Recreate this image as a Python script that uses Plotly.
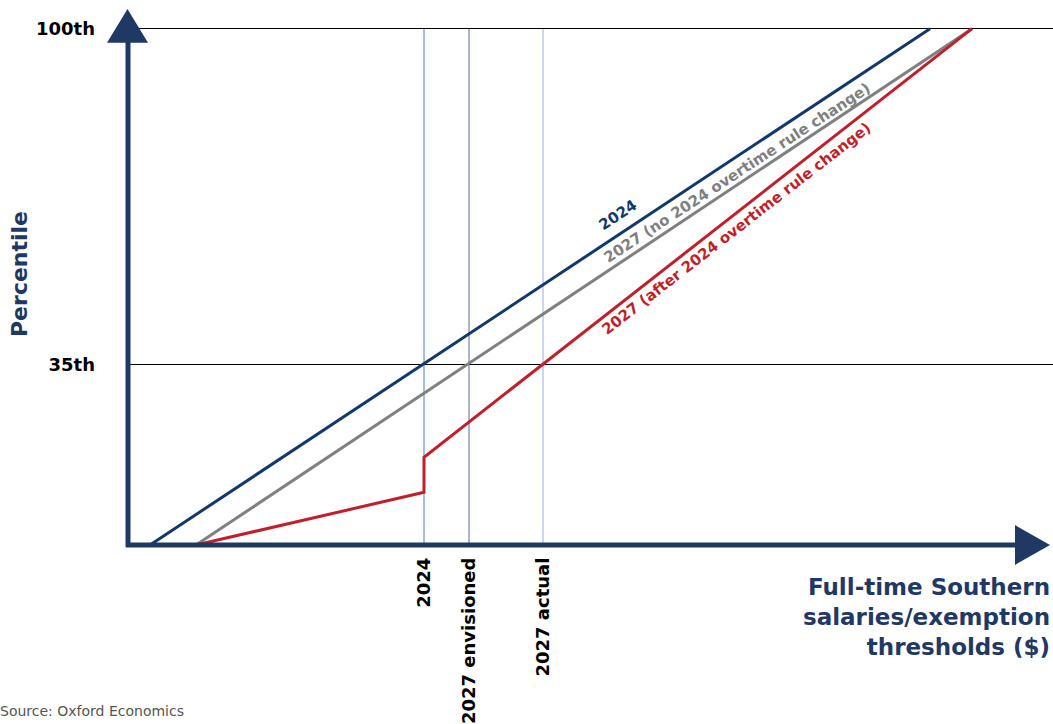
import plotly.graph_objects as go

# ---- data (abstract salary units on x, percentile on y) ----
line2024_x = [22, 802]
line2024_y = [0, 100]
gray2027_x = [68, 844]
gray2027_y = [0, 100]
red2027_x = [68, 296, 296, 844]
red2027_y = [0, 10.2, 17.0, 100]

threshold_x = [296, 341, 415]
threshold_labels = ["2024", "2027 envisioned", "2027 actual"]
threshold_colors = ["#4d7bd0", "#5b6a8f", "#94afe0"]

ytick_vals = [35, 100]
ytick_labels = ["100th" if v == 100 else "35th" for v in ytick_vals]

NAVY = "#1f3864"
FONT = "DejaVu Sans"

W, H = 1053, 724
ML, MR, MT, MB = 128, 0, 8, 177
PW, PH = W - ML - MR, H - MT - MB


def px(xp):
    return (xp - ML) / PW


def py(yp):
    return (H - MB - yp) / PH


fig = go.Figure()

# threshold verticals
for xv, col in zip(threshold_x, threshold_colors):
    fig.add_shape(type="line", xref="x", yref="y", x0=xv, x1=xv, y0=0, y1=100,
                  line=dict(color=col, width=1), layer="below")

fig.add_trace(go.Scatter(x=line2024_x, y=line2024_y, mode="lines",
                         line=dict(color="#14386a", width=3), hoverinfo="skip"))
fig.add_trace(go.Scatter(x=gray2027_x, y=gray2027_y, mode="lines",
                         line=dict(color="#808080", width=3), hoverinfo="skip"))
fig.add_trace(go.Scatter(x=red2027_x, y=red2027_y, mode="lines",
                         line=dict(color="#c01f2b", width=3), hoverinfo="skip"))

# axes with arrows
fig.add_shape(type="line", xref="paper", yref="paper", x0=px(128), x1=px(128),
              y0=py(549), y1=py(40), line=dict(color=NAVY, width=5))
fig.add_shape(type="line", xref="paper", yref="paper", x0=px(126), x1=px(1018),
              y0=py(547), y1=py(547), line=dict(color=NAVY, width=5))
fig.add_shape(type="path", xref="paper", yref="paper",
              path=f"M {px(107)} {py(43)} L {px(148)} {py(43)} L {px(127.5)} {py(9)} Z",
              fillcolor=NAVY, line=dict(width=0))
fig.add_shape(type="path", xref="paper", yref="paper",
              path=f"M {px(1015)} {py(527)} L {px(1015)} {py(567)} L {px(1050)} {py(547)} Z",
              fillcolor=NAVY, line=dict(width=0))

# line labels
fig.add_annotation(x=490, y=63.9, text="<b>2024</b>", showarrow=False, textangle=-33.6,
                   font=dict(family=FONT, size=15, color="#14386a"))
fig.add_annotation(x=609, y=72.0, text="<b>2027 (no 2024 overtime rule change)</b>",
                   showarrow=False, textangle=-33.2,
                   font=dict(family=FONT, size=15, color="#808080"))
fig.add_annotation(x=608, y=61.2, text="<b>2027 (after 2024 overtime rule change)</b>",
                   showarrow=False, textangle=-37.8,
                   font=dict(family=FONT, size=15, color="#c01f2b"))

# axis titles
fig.add_annotation(xref="paper", yref="paper", x=px(19), y=py(275), xanchor="center",
                   yanchor="middle", text="<b>Percentile</b>",
                   showarrow=False, textangle=-90,
                   font=dict(family=FONT, size=22, color=NAVY))
fig.add_annotation(xref="paper", yref="paper", x=px(1052), y=py(574), xanchor="right", yanchor="top",
                   text="<b>Full-time Southern<br>salaries/exemption<br>thresholds ($)</b>",
                   align="right", showarrow=False,
                   font=dict(family=FONT, size=23, color=NAVY))
fig.add_annotation(xref="paper", yref="paper", x=px(-2), y=py(714), xanchor="left",
                   yanchor="middle",
                   text="Source: Oxford Economics", showarrow=False,
                   font=dict(family=FONT, size=14, color="#555555"))

fig.update_layout(
    width=W, height=H,
    margin=dict(l=ML, r=MR, t=MT, b=MB),
    paper_bgcolor="white", plot_bgcolor="white",
    showlegend=False,
    xaxis=dict(range=[0, PW], showgrid=False, zeroline=False, showline=False,
               tickvals=threshold_x, ticktext=[f"<b>{t}</b>" for t in threshold_labels],
               tickangle=-90, ticks="", ticklabelstandoff=8,
               tickfont=dict(family=FONT, size=18, color="black")),
    yaxis=dict(range=[0, 104], showgrid=True, gridcolor="black", gridwidth=1,
               zeroline=False, showline=False,
               tickvals=ytick_vals, ticktext=[f"<b>{t}</b>" for t in ytick_labels],
               ticks="", ticklabelstandoff=32,
               tickfont=dict(family=FONT, size=18, color="black")),
)

fig.write_html("out.html", config={"displayModeBar": False},
               post_script="document.body.style.margin='0';document.body.style.overflow='hidden';")
